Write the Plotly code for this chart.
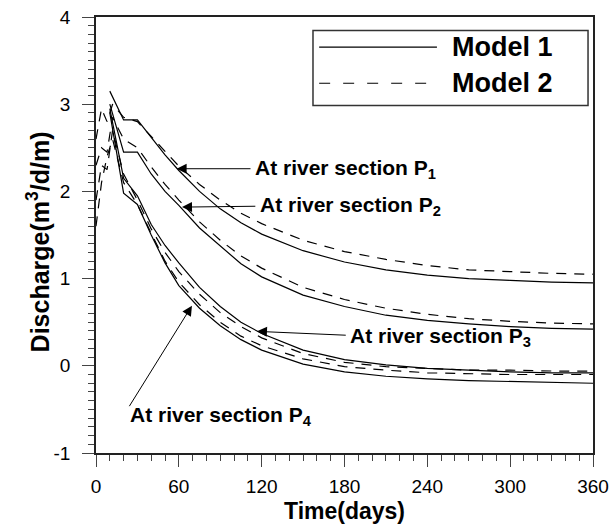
import plotly.graph_objects as go

# ---- data ----
t_m1 = [10, 20, 30, 40, 50, 60, 75, 90, 105, 120, 150, 180, 210, 240, 270, 300, 330, 360]
p1_m1 = [3.15, 2.82, 2.82, 2.62, 2.42, 2.24, 2.0, 1.8, 1.64, 1.51, 1.32, 1.19, 1.10, 1.04, 1.0, 0.98, 0.96, 0.95]
p2_m1 = [3.0, 2.45, 2.45, 2.2, 2.0, 1.84, 1.58, 1.37, 1.17, 1.02, 0.81, 0.68, 0.58, 0.52, 0.48, 0.45, 0.43, 0.42]
p3_m1 = [2.95, 2.15, 1.95, 1.62, 1.38, 1.18, 0.9, 0.68, 0.5, 0.37, 0.18, 0.07, 0.01, -0.03, -0.05, -0.07, -0.08, -0.08]
p4_m1 = [2.9, 1.98, 1.85, 1.5, 1.18, 0.92, 0.66, 0.46, 0.3, 0.18, 0.02, -0.07, -0.12, -0.15, -0.17, -0.18, -0.19, -0.2]

t_m2 = [0, 4, 8, 12, 20, 30, 40, 50, 60, 75, 90, 105, 120, 150, 180, 210, 240, 270, 300, 330, 360]
p1_m2 = [2.6, 2.95, 2.8, 3.0, 2.85, 2.8, 2.63, 2.46, 2.29, 2.08, 1.9, 1.75, 1.63, 1.44, 1.31, 1.22, 1.15, 1.1, 1.08, 1.06, 1.05]
p2_m2 = [2.3, 2.5, 2.45, 2.85, 2.6, 2.5, 2.28, 2.08, 1.9, 1.65, 1.44, 1.26, 1.12, 0.9, 0.76, 0.66, 0.59, 0.54, 0.51, 0.49, 0.48]
p3_m2 = [1.9, 2.3, 2.25, 2.7, 2.2, 1.9, 1.57, 1.3, 1.08, 0.82, 0.61, 0.45, 0.32, 0.14, 0.04, -0.01, -0.03, -0.05, -0.05, -0.06, -0.06]
p4_m2 = [1.6, 2.1, 2.4, 2.6, 2.1, 1.85, 1.52, 1.2, 0.96, 0.7, 0.5, 0.34, 0.23, 0.08, -0.01, -0.05, -0.08, -0.09, -0.1, -0.1, -0.1]

x_ticks = [0, 60, 120, 180, 240, 300, 360]
y_ticks = [-1, 0, 1, 2, 3, 4]

labels = ["At river section P<sub>1</sub>", "At river section P<sub>2</sub>",
          "At river section P<sub>3</sub>", "At river section P<sub>4</sub>"]
# arrow tip (t, q), arrow tail (t, q) and text anchor (t, q)
arrow_tips = [(58.4, 2.26), (62.3, 1.82), (116.6, 0.395), (69.5, 0.69)]
arrow_tails = [(113.0, 2.26), (116.5, 1.83), (182.0, 0.35), (23.5, -0.48)]
text_pos = [(113.7, 2.26), (117.3, 1.83), (182.5, 0.33), (23.2, -0.58)]

FONT = "Liberation Sans, Arial, sans-serif"
DASH = "10px,8px"

fig = go.Figure()
for ys in [p1_m1, p2_m1, p3_m1, p4_m1]:
    fig.add_trace(go.Scatter(x=t_m1, y=ys, mode="lines", showlegend=False,
                             line=dict(color="black", width=1.2)))
for ys in [p1_m2, p2_m2, p3_m2, p4_m2]:
    fig.add_trace(go.Scatter(x=t_m2, y=ys, mode="lines", showlegend=False,
                             line=dict(color="black", width=1.2, dash=DASH)))

annotations = []
for lab, tip, tail, tp in zip(labels, arrow_tips, arrow_tails, text_pos):
    annotations.append(dict(x=tip[0], y=tip[1], ax=tail[0], ay=tail[1], xref="x", yref="y",
                            axref="x", ayref="y", text="", showarrow=True, arrowhead=2,
                            arrowsize=2, arrowwidth=1, arrowcolor="black", standoff=0))
    annotations.append(dict(x=tp[0], y=tp[1], xref="x", yref="y", text=lab, showarrow=False,
                            xanchor="left", yanchor="middle",
                            font=dict(family=FONT, size=21, color="black", weight="bold")))

# axis titles as free text
annotations.append(dict(x=-0.117, y=0.485, xref="paper", yref="paper",
                        text="Discharge(m<sup>3</sup>/d/m)", textangle=-90, showarrow=False,
                        xanchor="center", yanchor="middle",
                        font=dict(family=FONT, size=25, color="black", weight="bold")))
annotations.append(dict(x=0.5, y=-0.134, xref="paper", yref="paper",
                        text="Time(days)", showarrow=False, xanchor="center", yanchor="middle",
                        font=dict(family=FONT, size=23, color="black", weight="bold")))

# legend drawn by hand
annotations.append(dict(x=0.712, y=0.931, xref="paper", yref="paper", text="Model 1", showarrow=False,
                        xanchor="left", yanchor="middle",
                        font=dict(family=FONT, size=27, color="black", weight="bold")))
annotations.append(dict(x=0.712, y=0.848, xref="paper", yref="paper", text="Model 2", showarrow=False,
                        xanchor="left", yanchor="middle",
                        font=dict(family=FONT, size=27, color="black", weight="bold")))

shapes = [
    dict(type="rect", xref="paper", yref="paper", x0=0.4366, x1=0.99, y0=0.797, y1=0.969,
         line=dict(color="#333", width=1.5), fillcolor="white", layer="above"),
    dict(type="line", xref="paper", yref="paper", x0=0.449, x1=0.686, y0=0.931, y1=0.931,
         line=dict(color="black", width=1.2), layer="above"),
    dict(type="line", xref="paper", yref="paper", x0=0.449, x1=0.686, y0=0.848, y1=0.848,
         line=dict(color="black", width=1.2, dash="11px,13px"), layer="above"),
]

axis_common = dict(showgrid=False, zeroline=False, showline=True, linecolor="#222", linewidth=1.5,
                   mirror=True, ticks="outside", ticklen=12, tickwidth=1.2, tickcolor="#444",
                   automargin=False,
                   tickfont=dict(family=FONT, size=19, color="black"))

fig.update_layout(
    width=612, height=526,
    margin=dict(l=96, r=19, t=17, b=73),
    plot_bgcolor="white", paper_bgcolor="white",
    xaxis=dict(range=[0, 360], tickvals=x_ticks, ticktext=[str(v) for v in x_ticks],
               minor=dict(dtick=10, ticks="outside", ticklen=6, tickcolor="#444", tickwidth=1),
               ticklabelstandoff=3, **axis_common),
    yaxis=dict(range=[-1, 4], tickvals=y_ticks, ticktext=[str(v) for v in y_ticks],
               minor=dict(dtick=0.1, ticks="outside", ticklen=6, tickcolor="#444", tickwidth=1),
               ticklabelstandoff=8, **axis_common),
    annotations=annotations, shapes=shapes,
)

fig.write_html("out.html")
